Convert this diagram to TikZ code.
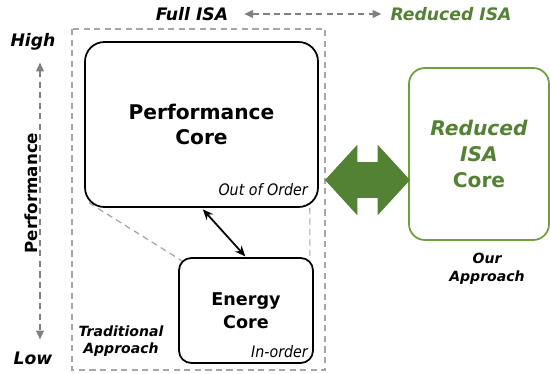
\documentclass[tikz,border=0pt]{standalone}
\usepackage{fontspec}
\setmainfont{DejaVu Sans}
\newfontfamily\condfont{DejaVu Sans Condensed}
\usetikzlibrary{arrows.meta,shapes.arrows}
\pgfdeclarelayer{background}
\pgfsetlayers{background,main}
\definecolor{isagreen}{HTML}{548235}
\definecolor{isaframe}{HTML}{6F9E3F}
\definecolor{guidegray}{HTML}{A6A6A6}
\tikzset{
	core/.style={draw, fill=white, line width=1pt, align=center},
	mode/.style={font=\condfont\itshape\fontsize{9}{10}\selectfont, inner sep=1pt},
	tag/.style={font=\bfseries\itshape\fontsize{8}{10}\selectfont, align=center},
	axislabel/.style={font=\bfseries\itshape\fontsize{9.8}{11}\selectfont},
	guide/.style={guidegray, line width=0.7pt, dash pattern=on 3.5pt off 2.5pt},
	guidearrow/.style={guide, gray, {Triangle[length=5pt,width=4.5pt]}-{Triangle[length=5pt,width=4.5pt]}}
}
\begin{document}
	\begin{tikzpicture}[x=0.02cm, y=-0.02cm]
		\useasboundingbox (0,0) rectangle (550,374);
		\draw[guide] (72,29) rectangle (325,370);
		\node[core, rounded corners=11pt, minimum width=4.66cm, minimum height=3.3cm,
			font=\bfseries\fontsize{11.5}{14.5}\selectfont] (perf) at (201.5,124.5) {Performance\\Core};
		\node[core, rounded corners=7pt, minimum width=2.68cm, minimum height=2.1cm,
			font=\bfseries\fontsize{10}{13}\selectfont] (energy) at (246,310.5) {Energy\\Core};
		\node[core, draw=isaframe, rounded corners=9pt, minimum width=2.8cm, minimum height=3.44cm,
			text=isagreen, font=\bfseries\fontsize{11.5}{15}\selectfont] (reduced) at (479,154) {\textit{Reduced}\\\textit{ISA}\\Core};
		\node[mode, anchor=south east] (ooo) at ([shift={(-0.18cm,0.2cm)}]perf.south east) {Out of Order};
		\node[mode, anchor=south east] (inorder) at ([shift={(-0.08cm,0.08cm)}]energy.south east) {In-order};
		\begin{pgfonlayer}{background}
			\draw[guide] ([shift={(0.1cm,0.1cm)}]perf.south west) -- ([shift={(0.07cm,-0.07cm)}]energy.north west);
			\draw[guide] ([xshift=-0.18cm]perf.south east) -- ([xshift=-0.08cm]energy.north east);
		\end{pgfonlayer}
		\draw[line width=1pt, {Stealth[length=6pt,width=5pt]}-{Stealth[length=6pt,width=5pt]},
			shorten <=0.04cm, shorten >=0.02cm] (perf.south) -- (energy.north);
		\node[double arrow, fill=isagreen, inner xsep=0pt, inner ysep=0.35cm, minimum height=1.7cm,
			double arrow head extend=0.35cm, double arrow tip angle=95] (swap) at (367.5,180) {};
		\node[tag] (trad) at (121,341) {Traditional\\Approach};
		\node[tag] (ours) at (487,269) {Our\\Approach};
		\node[axislabel] (full) at (192,14) {Full ISA};
		\node[axislabel, text=isagreen] (rtop) at (451,14) {Reduced ISA};
		\draw[guidearrow, shorten <=0.2cm, shorten >=0.06cm] (full) -- (rtop);
		\node[axislabel] (high) at (33,42) {High};
		\node[axislabel] (low) at (33,358) {Low};
		\node[rotate=90, font=\bfseries\fontsize{9.5}{10}\selectfont] (perflabel) at (31,193) {Performance};
		\draw[guidearrow, shorten <=0.12cm, shorten >=0.12cm] ([xshift=0.14cm]high.south) -- ([xshift=0.14cm]low.north);
	\end{tikzpicture}
\end{document}
